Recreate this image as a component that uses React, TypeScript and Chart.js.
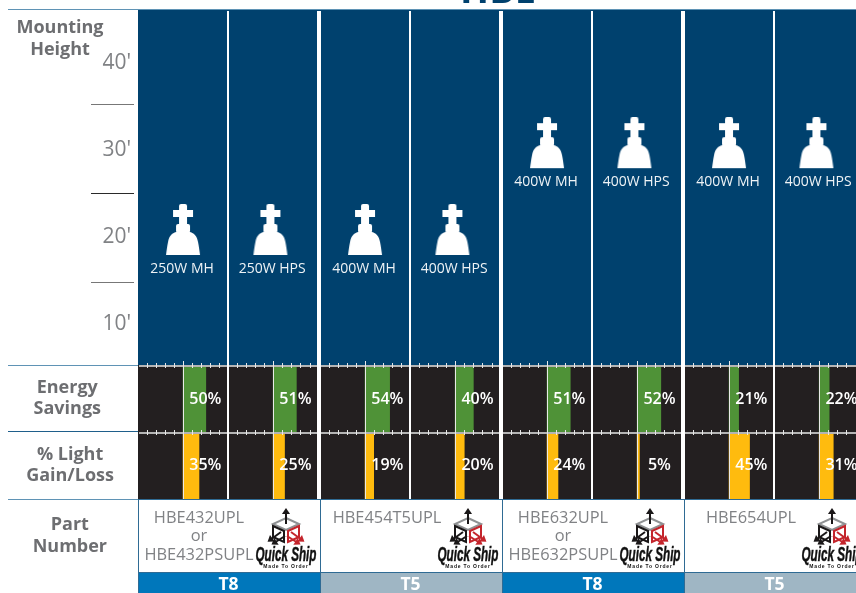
import React, { useEffect, useRef } from "react";
import Chart from "chart.js/auto";

const fixtureLabels = ["250W MH", "250W HPS", "400W MH", "400W HPS", "400W MH", "400W HPS", "400W MH", "400W HPS"];
const mountingHeights = [20, 20, 20, 20, 30, 30, 30, 30];
const energySavings = [50, 51, 54, 40, 51, 52, 21, 22];
const lightGain = [35, 25, 19, 20, 24, 5, 45, 31];
const partNumbers = [["HBE432UPL", "or", "HBE432PSUPL"], ["HBE454T5UPL"], ["HBE632UPL", "or", "HBE632PSUPL"], ["HBE654UPL"]];
const lampTypes = ["T8", "T5", "T8", "T5"];
const heightTicks = [10, 20, 30, 40];
const heightDividers = [14.82, 25.07, 35.32];
const energyTitle = ["Energy", "Savings"];
const lightTitle = ["% Light", "Gain/Loss"];
const partTitle = ["Part", "Number"];
const percentTicks = [-80, -60, -40, -20, 20, 40, 60, 80];

const NAVY = "#00416e";
const DARK = "#231f20";
const GREEN = "#4f9237";
const YELLOW = "#ffbb0e";
const GRAY = "#808285";
const TITLE_GRAY = "#6d6e71";
const RULE = "#5f93b5";
const FONT = '"Open Sans", sans-serif';

const colCenter = (i: number) => Math.floor(i / 2) * 400 + (i % 2) * 198 + 99;

function makeFixture() {
  const c = document.createElement("canvas");
  c.width = 36;
  c.height = 66;
  const g = c.getContext("2d")!;
  g.fillStyle = "#fff";
  g.beginPath();
  g.roundRect(14, 0, 8, 8, 2);
  g.fill();
  g.fillRect(8, 6, 20, 7);
  g.fillRect(14, 13, 8, 8);
  g.beginPath();
  g.roundRect(11, 20, 14, 9, 2);
  g.fill();
  g.beginPath();
  g.moveTo(11, 28);
  g.bezierCurveTo(7, 29, 4, 32, 3, 38);
  g.bezierCurveTo(2, 43, 1.5, 47, 1, 51);
  g.lineTo(35, 51);
  g.bezierCurveTo(34.5, 47, 34, 43, 33, 38);
  g.bezierCurveTo(32, 32, 29, 29, 25, 28);
  g.closePath();
  g.fill();
  return c;
}

function drawLogo(ctx: CanvasRenderingContext2D, cx: number) {
  const cy = 529;
  ctx.save();
  ctx.lineCap = "butt";
  ctx.strokeStyle = "#8f9193";
  ctx.lineWidth = 2;
  ctx.beginPath();
  ctx.moveTo(cx, cy - 11);
  ctx.lineTo(cx + 13, cy - 5);
  ctx.lineTo(cx, cy + 1);
  ctx.lineTo(cx - 13, cy - 5);
  ctx.closePath();
  ctx.stroke();
  ctx.strokeStyle = "#1a1718";
  ctx.beginPath();
  ctx.moveTo(cx - 13, cy - 3);
  ctx.lineTo(cx - 2, cy + 2);
  ctx.lineTo(cx - 2, cy + 13);
  ctx.lineTo(cx - 13, cy + 8);
  ctx.closePath();
  ctx.stroke();
  ctx.strokeStyle = "#c4252c";
  ctx.beginPath();
  ctx.moveTo(cx + 13, cy - 3);
  ctx.lineTo(cx + 2, cy + 2);
  ctx.lineTo(cx + 2, cy + 13);
  ctx.lineTo(cx + 13, cy + 8);
  ctx.closePath();
  ctx.stroke();
  const arrow = (x1: number, y1: number, x2: number, y2: number, col: string) => {
    ctx.strokeStyle = col;
    ctx.fillStyle = col;
    ctx.lineWidth = 2;
    ctx.beginPath();
    ctx.moveTo(x1, y1);
    ctx.lineTo(x2, y2);
    ctx.stroke();
    const a = Math.atan2(y2 - y1, x2 - x1);
    ctx.beginPath();
    ctx.moveTo(x2 + Math.cos(a) * 3, y2 + Math.sin(a) * 3);
    ctx.lineTo(x2 + Math.cos(a + 2.2) * 5, y2 + Math.sin(a + 2.2) * 5);
    ctx.lineTo(x2 + Math.cos(a - 2.2) * 5, y2 + Math.sin(a - 2.2) * 5);
    ctx.closePath();
    ctx.fill();
  };
  arrow(cx, cy - 5, cx, cy - 18, "#1a1718");
  arrow(cx - 5, cy + 3, cx - 16, cy + 11, "#1a1718");
  arrow(cx - 1, cy + 7, cx - 12, cy + 14, "#1a1718");
  arrow(cx + 5, cy + 3, cx + 16, cy + 11, "#c4252c");
  arrow(cx + 1, cy + 7, cx + 12, cy + 14, "#c4252c");
  ctx.fillStyle = "#111";
  ctx.strokeStyle = "#111";
  ctx.lineWidth = 0.5;
  ctx.textAlign = "center";
  ctx.textBaseline = "middle";
  ctx.font = 'italic bold 20px "Liberation Sans Narrow", sans-serif';
  const w = ctx.measureText("Quick Ship").width;
  ctx.save();
  ctx.translate(cx, 555);
  ctx.scale(61 / w, 1);
  ctx.fillText("Quick Ship", 0, 0);
  ctx.strokeText("Quick Ship", 0, 0);
  ctx.restore();
  ctx.font = 'bold 5px "Liberation Sans", sans-serif';
  (ctx as any).letterSpacing = "0.8px";
  ctx.fillText("Made To Order", cx, 566.5);
  (ctx as any).letterSpacing = "0px";
  ctx.restore();
}

const infographic = {
  id: "infographic",
  beforeDatasetsDraw(chart: any) {
    const { ctx, chartArea, scales } = chart;
    const { left, right } = chartArea;
    ctx.save();
    ctx.fillStyle = NAVY;
    ctx.fillRect(left, scales.height.top, right - left, scales.height.bottom - scales.height.top);
    ctx.fillStyle = DARK;
    ctx.fillRect(left, scales.energy.top, right - left, scales.light.bottom - scales.energy.top);
    ctx.restore();
  },
  afterDatasetsDraw(chart: any) {
    const { ctx, chartArea, scales } = chart;
    const { x, height, energy, light, part, lamp } = scales;
    const { left, right } = chartArea;
    ctx.save();
    fixtureLabels.forEach((_, i) => {
      const cx = Math.round(x.getPixelForValue(colCenter(i)));
      [energy.top, light.top].forEach((top: number) => {
        ctx.fillStyle = "#b4b4b4";
        ctx.fillRect(cx - 44, top, 89, 2);
        ctx.fillStyle = "#e6e6e6";
        percentTicks.forEach((p) => {
          const px = Math.round(x.getPixelForValue(colCenter(i) + p));
          ctx.fillRect(px, top - 2, 1, 5);
        });
      });
      ctx.fillStyle = "#e8e8e8";
      ctx.fillRect(cx, energy.top - 4, 1, light.bottom - energy.top + 4);
    });
    ctx.fillStyle = "#fff";
    for (let g = 0; g < 4; g++) {
      const a = x.getPixelForValue(g * 400 + 198);
      ctx.fillRect(Math.round(a) - 1, height.top + 1, 2, light.bottom - height.top - 1);
      const b = x.getPixelForValue(g * 400 + 398);
      ctx.fillRect(Math.round(b) - 2, height.top + 1, 4, light.bottom - height.top - 1);
    }
    ctx.fillStyle = "#eef3f6";
    ctx.font = `14px ${FONT}`;
    ctx.textAlign = "center";
    ctx.textBaseline = "middle";
    fixtureLabels.forEach((t, i) => {
      ctx.fillText(t, x.getPixelForValue(colCenter(i)) - 1, height.getPixelForValue(mountingHeights[i]) + 32);
    });
    ctx.fillStyle = "#fff";
    ctx.font = `600 16px ${FONT}`;
    energySavings.forEach((v, i) => {
      ctx.fillText(`${v}%`, x.getPixelForValue(colCenter(i) + 49), energy.getPixelForValue(0) + 1);
    });
    lightGain.forEach((v, i) => {
      ctx.fillText(`${v}%`, x.getPixelForValue(colCenter(i) + 49), light.getPixelForValue(0));
    });
    heightDividers.forEach((v, i) => {
      ctx.fillStyle = i === 1 ? "#2a2a2a" : "#777";
      ctx.fillRect(91, Math.round(height.getPixelForValue(v)), 43, 1);
    });
    ctx.fillStyle = RULE;
    ctx.fillRect(8, height.top - 1, right - 8, 1);
    ctx.fillRect(8, energy.top, left - 8, 1);
    ctx.fillStyle = "#1f5f8b";
    ctx.fillRect(8, light.top - 1, left - 8, 1);
    ctx.fillStyle = RULE;
    ctx.fillRect(8, part.top, left - 8, 1);
    ctx.fillStyle = "#2f6b94";
    ctx.fillRect(left, part.top, right - left, 1);
    ctx.fillRect(left, part.bottom - 1, right - left, 1);
    for (let g = 0; g < 4; g++) {
      const px = Math.round(x.getPixelForValue(g * 400));
      ctx.fillRect(px, part.top, 1, lamp.bottom - part.top);
    }
    ctx.fillStyle = GRAY;
    ctx.font = `16.4px ${FONT}`;
    partNumbers.forEach((lines, g) => {
      const gx = x.getPixelForValue(g * 400);
      const tx = gx + (lines.length > 1 ? 61 : 67);
      lines.forEach((t, j) => ctx.fillText(t, tx, 518 + j * 18.5));
      drawLogo(ctx, gx + 148);
    });
    ctx.fillStyle = "#fff";
    ctx.font = `bold 17.5px ${FONT}`;
    lampTypes.forEach((t, g) => {
      ctx.fillText(t, x.getPixelForValue(g * 400 + 199), lamp.getPixelForValue(0) + 2);
    });
    ctx.fillStyle = TITLE_GRAY;
    ctx.font = `bold 18px ${FONT}`;
    ctx.fillText("Mounting", 60, 28);
    ctx.fillText("Height", 60, 50);
    ctx.fillStyle = "#00416e";
    ctx.font = `bold 38px ${FONT}`;
    ctx.textBaseline = "alphabetic";
    ctx.fillText("HBE", 498, 3);
    ctx.restore();
  },
};

const fitRow = (s: any) => {
  s.width = 138;
  s.paddingTop = 0;
  s.paddingBottom = 0;
  s.paddingLeft = 0;
  s.paddingRight = 0;
};

const rowScale = (label: string[], weight: number, padding: number, order: number) => ({
  type: "category" as const,
  axis: "y",
  position: "left" as const,
  stack: "rows",
  stackWeight: weight,
  weight: order,
  offset: true,
  labels: [label.join(" ")],
  grid: { display: false, drawTicks: false },
  border: { display: false },
  afterFit: fitRow,
  ticks: {
    crossAlign: "center" as const,
    padding,
    color: TITLE_GRAY,
    font: { family: FONT, size: 18, weight: "bold" as const, lineHeight: 1.2 },
    callback: () => label,
  },
});

export default function App() {
  const ref = useRef<HTMLCanvasElement>(null);
  useEffect(() => {
    const fixture = makeFixture();
    const lampColors = lampTypes.map((t) => (t === "T8" ? "#0077bb" : "#9fb6c4"));
    const chart = new Chart(ref.current!, {
      type: "bar",
      data: {
        datasets: [
          {
            type: "scatter",
            label: "Mounting height",
            xAxisID: "x",
            yAxisID: "height",
            showLine: false,
            pointStyle: fixture,
            data: mountingHeights.map((h, i) => ({ x: colCenter(i) - (i % 2) * 6, y: h })),
          },
          {
            label: "Energy savings",
            indexAxis: "y",
            xAxisID: "x",
            yAxisID: "energy",
            backgroundColor: GREEN,
            barPercentage: 1,
            categoryPercentage: 1,
            data: energySavings.map((v, i) => ({ x: [colCenter(i), colCenter(i) + v], y: energyTitle.join(" ") })),
          },
          {
            label: "Light gain/loss",
            indexAxis: "y",
            xAxisID: "x",
            yAxisID: "light",
            backgroundColor: YELLOW,
            barPercentage: 1,
            categoryPercentage: 1,
            data: lightGain.map((v, i) => ({ x: [colCenter(i), colCenter(i) + v], y: lightTitle.join(" ") })),
          },
          {
            label: "Part number",
            indexAxis: "y",
            xAxisID: "x",
            yAxisID: "part",
            backgroundColor: "#ffffff",
            barPercentage: 1,
            categoryPercentage: 1,
            data: partNumbers.map((_, g) => ({ x: [g * 400, g * 400 + 400], y: partTitle.join(" ") })),
          },
          {
            label: "Lamp",
            indexAxis: "y",
            xAxisID: "x",
            yAxisID: "lamp",
            backgroundColor: lampColors,
            barPercentage: 1,
            categoryPercentage: 1,
            data: lampTypes.map((t, g) => ({ x: [g * 400 + 1, g * 400 + 400], y: "Lamp" })),
          },
        ] as any,
      },
      options: {
        responsive: false,
        animation: false,
        layout: { autoPadding: false, padding: { top: 10, left: 0, right: 0, bottom: 0 } },
        plugins: { legend: { display: false }, tooltip: { enabled: false } },
        scales: {
          x: { type: "linear", min: 0, max: 1578, display: false, offset: false },
          height: {
            type: "linear",
            axis: "y",
            position: "left",
            stack: "rows",
            stackWeight: 355,
            weight: 5,
            min: 5.25,
            max: 46.15,
            grid: { display: false, drawTicks: false },
            border: { display: false },
            afterFit: fitRow,
            afterBuildTicks: (s: any) => {
              s.ticks = heightTicks.map((value) => ({ value }));
            },
            ticks: {
              padding: 7,
              color: GRAY,
              autoSkip: false,
              font: { family: FONT, size: 21 },
              callback: (v: any) => `${v}'`,
            },
          },
          energy: rowScale(energyTitle, 67, 37, 4),
          light: rowScale(lightTitle, 67, 24, 3),
          part: rowScale(partTitle, 74, 31, 2),
          lamp: {
            type: "category",
            axis: "y",
            position: "left",
            stack: "rows",
            stackWeight: 20,
            weight: 1,
            offset: true,
            labels: ["Lamp"],
            grid: { display: false, drawTicks: false },
            border: { display: false },
            afterFit: fitRow,
            ticks: { display: false },
          },
        } as any,
      },
      plugins: [infographic],
    });
    return () => chart.destroy();
  }, []);
  return (
    <canvas
      ref={ref}
      width={856}
      height={593}
      style={{ position: "absolute", left: 0, top: 0, display: "block" }}
    />
  );
}
